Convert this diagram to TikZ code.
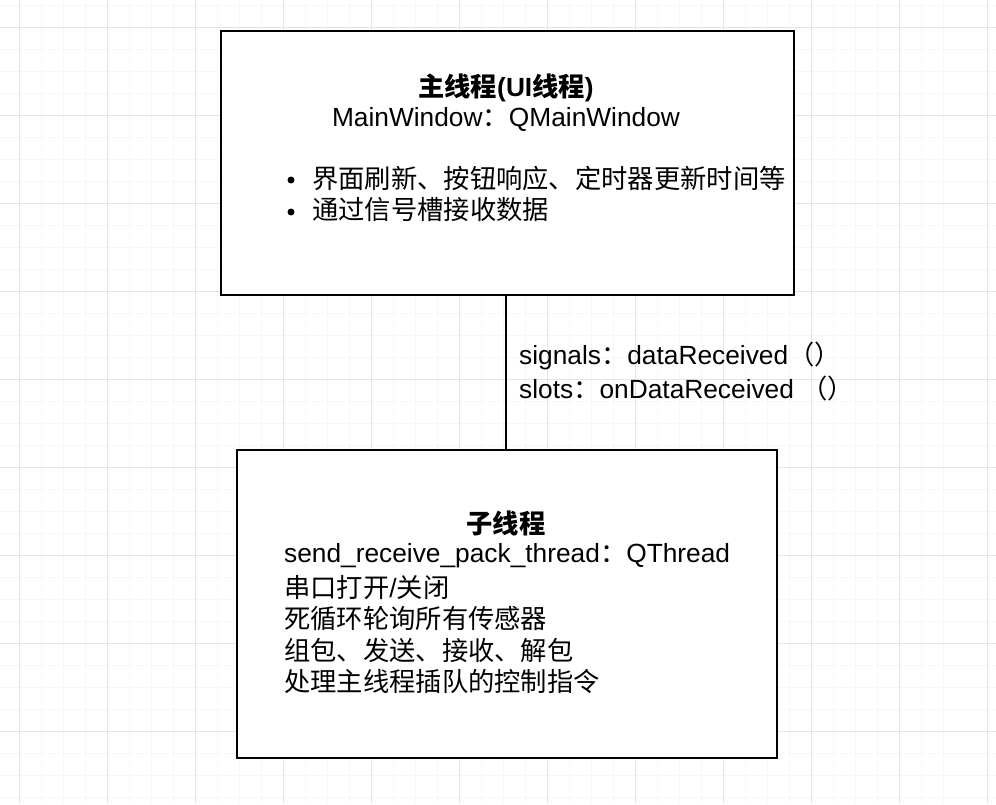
\documentclass[tikz,border=0pt]{standalone}
\usepackage{fontspec}
\setmainfont{Liberation Sans}
\newfontfamily\cjk{Noto Sans CJK SC}
\begin{document}
\begin{tikzpicture}[x=1pt,y=-1pt,
  txt/.style={inner sep=0pt,anchor=west,font=\fontsize{26.3}{30}\selectfont},
  box/.style={draw=black,line width=1.6pt,fill=white}]
\useasboundingbox (0,0) rectangle (996,804);
\fill[white] (0,0) rectangle (996,804);
\foreach \i in {0,...,46} {\draw[black!3,line width=0.8pt] (19+22*\i-88,0) -- (19+22*\i-88,804);}
\foreach \i in {0,...,40} {\draw[black!3,line width=0.8pt] (0,27+22*\i-88) -- (996,27+22*\i-88);}
\foreach \i in {0,...,12} {\draw[black!10,line width=0.8pt] (19+88*\i-88,0) -- (19+88*\i-88,804);}
\foreach \i in {0,...,10} {\draw[black!10,line width=0.8pt] (0,27+88*\i-88) -- (996,27+88*\i-88);}
\node[box,minimum width=573,minimum height=264,anchor=north west,inner sep=0] (top) at (220,30) {};
\node[box,minimum width=540,minimum height=308,anchor=north west,inner sep=0] (bot) at (236,449) {};
\draw[line width=1.6pt] (top.south-|506,0) -- (bot.north-|506,0);
\node[txt,anchor=center,font=\fontsize{26.3}{30}\selectfont\bfseries] (t1) at (506,88) {{\cjk\bfseries 主线程}(UI{\cjk\bfseries 线程})};
\node[txt,anchor=center] (t2) at (506,119) {MainWindow{\cjk：}QMainWindow};
\node[txt] (b1) at (312,178) {\cjk 界面刷新、按钮响应、定时器更新时间等};
\node[txt] (b2) at (312,210) {\cjk 通过信号槽接收数据};
\fill (291,180) circle (3.5);
\fill (291,212) circle (3.5);
\node[txt] (l1) at (519,356) {signals{\cjk：}dataReceived{\cjk（）}};
\node[txt] (l2) at (519,388) {slots{\cjk：}onDataReceived\ {\cjk（）}};
\node[txt,anchor=center] (s1) at (506,523) {\cjk\bfseries 子线程};
\node[txt] (s2) at (284,556) {send\_receive\_pack\_thread{\cjk：}QThread};
\node[txt] (s3) at (284,588) {{\cjk 串口打开}/{\cjk 关闭}};
\node[txt] (s4) at (284,619) {\cjk 死循环轮询所有传感器};
\node[txt] (s5) at (284,650) {\cjk 组包、发送、接收、解包};
\node[txt] (s6) at (284,682) {\cjk 处理主线程插队的控制指令};
\end{tikzpicture}
\end{document}
